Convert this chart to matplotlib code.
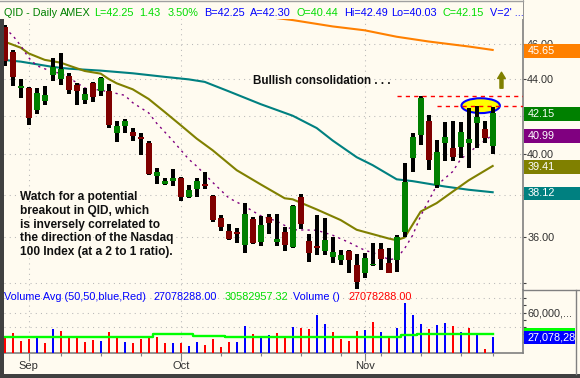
import numpy as np
import matplotlib
matplotlib.use('Agg')
import matplotlib.pyplot as plt
from matplotlib.patches import Rectangle, Ellipse
from matplotlib.ticker import FixedLocator, FixedFormatter, NullFormatter

plt.rcParams['font.family'] = ['Liberation Sans', 'DejaVu Sans']

W, H = 580, 378
BG = '#FFFBF0'

# ---------------- data ----------------
month_labels = ['Sep', 'Oct', 'Nov']
month_pos = [3, 22, 45]
week_pos = [7, 12, 17, 27, 32, 37, 42, 47, 52, 57, 61]

opens = [47.0, 45.55, 43.5, 43.5, 42.3, 42.8, 44.2, 44.0, 44.15, 43.65,
         42.85, 43.8, 43.35, 43.35, 41.1, 41.45, 41.15, 40.87, 40.55, 38.9,
         38.5, 38.65, 38.8, 37.9, 38.27, 38.5, 37.95, 36.9, 36.3, 36.25,
         35.66, 36.85, 35.77, 36.95, 35.77, 36.27, 35.58, 37.9, 35.85, 35.63,
         35.4, 35.1, 35.0, 35.4, 34.77, 34.4, 34.75, 35.48, 34.84, 35.0,
         36.27, 39.8, 41.0, 41.7, 38.48, 40.59, 40.33, 40.39, 40.59, 41.63,
         41.3, 40.44]
highs = [47.1, 45.65, 44.0, 43.55, 43.5, 43.6, 45.2, 45.5, 44.35, 43.8,
         43.5, 43.85, 44.1, 43.7, 41.7, 41.8, 41.35, 41.1, 40.7, 39.3,
         38.8, 39.25, 38.85, 38.45, 38.8, 39.1, 38.0, 37.05, 36.6, 36.45,
         37.6, 36.95, 37.0, 37.1, 37.1, 36.5, 37.5, 38.05, 36.15, 37.05,
         36.9, 36.0, 35.45, 35.45, 35.26, 35.3, 35.75, 35.75, 35.5, 36.12,
         39.55, 41.1, 43.06, 42.05, 40.73, 41.68, 41.72, 41.65, 42.4, 42.54,
         41.72, 42.49]
lows = [44.75, 43.6, 42.95, 41.5, 42.1, 42.55, 43.9, 43.65, 43.15, 42.6,
        42.65, 42.75, 43.05, 41.35, 40.6, 41.1, 40.7, 39.97, 38.95, 38.5,
        38.45, 38.4, 37.7, 37.85, 37.9, 38.27, 36.7, 36.3, 35.9, 35.75,
        35.3, 35.7, 35.6, 36.15, 35.62, 35.4, 35.5, 36.4, 34.9, 35.2,
        35.2, 34.87, 34.77, 34.43, 33.72, 34.2, 34.7, 34.55, 34.4, 34.47,
        36.04, 39.13, 40.47, 39.2, 38.34, 39.66, 39.68, 39.83, 39.3, 40.33,
        40.59, 40.03]
closes = [45.0, 44.1, 43.6, 41.9, 43.25, 43.1, 44.65, 44.55, 43.4, 43.35,
          43.15, 43.0, 44.05, 41.5, 41.45, 41.7, 40.95, 40.78, 39.0, 39.1,
          38.65, 38.8, 37.9, 38.25, 38.67, 38.4, 36.8, 36.47, 35.92, 36.15,
          37.1, 35.75, 36.58, 36.68, 35.93, 35.66, 37.45, 36.62, 35.3, 35.5,
          35.86, 35.32, 35.2, 35.0, 34.04, 35.07, 34.8, 35.02, 34.42, 36.04,
          38.6, 40.9, 42.94, 39.7, 40.13, 40.87, 39.85, 41.16, 40.78, 41.92,
          40.82, 42.15]

# volume in millions of shares, colour: 1 = blue, 0 = red
volume_m = [27.8, 32.4, 21.3, 23.7, 27.8, 18.5, 37.9, 34.7, 28.2, 26.4,
            19.9, 22.3, 21.3, 33.3, 25.4, 19.9, 18.5, 24.1, 25.4, 26.8,
            17.7, 18.5, 18.5, 14.0, 19.9, 15.4, 23.7, 12.6, 19.9, 19.1,
            42.0, 31.0, 26.8, 29.2, 32.0, 27.8, 40.2, 39.3, 37.5, 56.8,
            44.8, 33.3, 23.2, 20.9, 34.7, 36.1, 47.2, 33.3, 27.8, 38.9,
            73.4, 57.3, 44.4, 37.5, 43.0, 45.8, 41.6, 33.3, 38.9, 32.4,
            9.4, 27.08]
volume_blue = [0, 0, 0, 0, 1, 0, 1, 0, 0, 0,
               0, 0, 1, 0, 0, 1, 0, 0, 0, 0,
               0, 1, 0, 1, 1, 0, 0, 0, 0, 1,
               1, 0, 1, 1, 0, 0, 1, 0, 0, 1,
               1, 0, 0, 0, 0, 1, 0, 1, 0, 1,
               1, 1, 1, 0, 1, 1, 0, 1, 0, 1,
               0, 1]
vol_avg_m = [26.8] * 19 + [30.6] * 5 + [28.2] * 4 + [26.6] * 22 + [29.2] * 2 + [30.58] * 10

# moving averages (bar index, value)
ma200_idx = [34, 36, 41, 45, 49, 53, 58, 61]
ma200_val = [47.53, 47.41, 47.03, 46.80, 46.42, 46.14, 45.85, 45.65]

ma50_idx = [0, 2, 4, 6, 8, 12, 16, 20, 23, 25, 28, 32, 36, 39, 41, 44, 46, 49, 51, 55, 58, 61]
ma50_val = [45.07, 44.98, 44.83, 44.68, 44.58, 44.47, 44.32, 44.12, 43.98, 43.84,
            43.32, 42.62, 42.0, 41.35, 40.7, 39.85, 39.45, 38.75, 38.66, 38.4, 38.24, 38.12]

ma20_idx = [0, 2, 3, 5, 7, 8, 10, 12, 13, 14, 16, 18, 20, 22, 24, 26, 29, 32, 35, 36,
            39, 42, 44, 46, 48, 49, 50, 52, 54, 56, 58, 61]
ma20_val = [46.13, 45.78, 45.45, 45.08, 44.92, 44.76, 44.45, 44.3, 44.0, 43.76,
            43.43, 42.9, 42.2, 41.5, 40.8, 40.2, 39.2, 38.5, 37.83, 37.78,
            37.3, 36.8, 36.35, 36.15, 35.95, 35.87, 36.0, 37.2, 37.6, 38.15, 38.7, 39.41]

ma10_idx = [0, 1, 2, 3, 4, 6, 7, 9, 10, 12, 14, 15, 16, 18, 19, 21, 23, 24, 26, 28,
            30, 32, 34, 36, 39, 41, 43, 45, 47, 48, 49, 50, 51, 52, 54, 56, 57, 59, 61]
ma10_val = [46.92, 46.5, 45.9, 45.2, 44.75, 44.4, 44.32, 43.8, 43.5, 43.38,
            43.2, 43.1, 42.7, 42.15, 41.6, 40.7, 39.75, 39.4, 38.6, 37.85,
            37.45, 37.0, 36.75, 36.35, 36.33, 36.1, 35.78, 35.42, 35.2, 35.0,
            35.05, 35.5, 36.1, 37.0, 38.45, 39.13, 39.75, 40.4, 40.99]

# ---------------- helpers ----------------
def fx(px):
    return px / W

def fy(py):
    return 1 - py / H

YTOP, YBOT = 48.57, 33.68
VTOP, VBOT = 91.4, 4.98
XL, XR = -0.0875, 64.79

fig = plt.figure(figsize=(W / 100, H / 100), dpi=100, facecolor=BG)

# ---------------- price panel ----------------
ax = fig.add_axes([fx(4), fy(290), fx(523) - fx(4), fy(1) - fy(290)])
ax.set_facecolor(BG)
ax.set_yscale('log')
ax.set_xlim(XL, XR)
ax.set_ylim(YBOT, YTOP)
for s in ['left', 'top', 'bottom']:
    ax.spines[s].set_visible(False)
ax.spines['right'].set_color('#808080')
ax.spines['right'].set_linewidth(1.2)

yt = [34, 36, 38, 40, 42, 44, 46]
ax.yaxis.set_major_locator(FixedLocator(yt))
ax.yaxis.set_minor_locator(FixedLocator([]))
ax.yaxis.set_major_formatter(FixedFormatter(['', '36.00', '', '40.00', '', '44.00', '46.00']))
ax.yaxis.set_minor_formatter(NullFormatter())
ax.yaxis.tick_right()
ax.tick_params(axis='y', direction='out', length=2.5, width=0.8, color='#404040',
               labelsize=7.8, labelcolor='#303030', pad=0.5)
ax.set_xticks(month_pos)
ax.tick_params(axis='x', length=0, labelbottom=False)
ax.grid(True, which='major', color='#B8B8B8', linestyle=(0, (1, 4)), linewidth=0.75)
ax.set_axisbelow(True)

x = np.arange(len(closes))
o = np.array(opens); c = np.array(closes); hi = np.array(highs); lo = np.array(lows)
up = c >= o

# moving averages
ax.plot(ma200_idx, ma200_val, color='#FF8000', lw=1.5, zorder=2)
ax.plot(ma50_idx, ma50_val, color='#008080', lw=1.5, zorder=2)
ax.plot(ma20_idx, ma20_val, color='#808000', lw=1.5, zorder=2)
ax.plot(ma10_idx, ma10_val, color='#800080', lw=1.0, linestyle=(0, (1.6, 3)), zorder=2)

# highlight ellipse and resistance lines
ax.add_patch(Ellipse((59.5, 42.54), 4.8, 0.8, facecolor='#FFFF00', edgecolor='#0000FF',
                     lw=1.5, zorder=3))

# candles
ax.vlines(x, lo, hi, color='black', lw=1.5, zorder=4, antialiased=False)
body_b = np.minimum(o, c)
body_h = np.maximum(np.abs(c - o), 0.05)
ax.bar(x, body_h, bottom=body_b, width=0.75, color=np.where(up, '#008000', '#800000'),
       linewidth=0, zorder=5, antialiased=False)

ax.hlines(highs[52], 49, XR, colors='#FF0000', linestyles=(0, (3, 3)), lw=1.0, zorder=6)
ax.hlines(highs[59], 54, XR, colors='#FF0000', linestyles=(0, (3, 3)), lw=1.0, zorder=6)

ax.annotate('', xy=(62.1, 44.38), xytext=(62.1, 43.49),
            arrowprops=dict(width=2.2, headwidth=5.5, headlength=4.5, color='#808000', shrink=0),
            zorder=6)

# ---------------- volume panel ----------------
av = fig.add_axes([fx(4), fy(352.5), fx(523) - fx(4), fy(290) - fy(352.5)])
av.set_facecolor(BG)
av.set_xlim(XL, XR)
av.set_ylim(VBOT, VTOP)
for s in ['left', 'top']:
    av.spines[s].set_visible(False)
av.spines['right'].set_color('#808080')
av.spines['right'].set_linewidth(1.2)
av.spines['bottom'].set_color('#808080')
av.spines['bottom'].set_linewidth(1.2)
av.yaxis.tick_right()
av.yaxis.set_major_locator(FixedLocator([60]))
av.yaxis.set_major_formatter(FixedFormatter(['60,000,...']))
av.yaxis.set_minor_locator(FixedLocator([20, 30, 40, 50, 70, 80]))
av.tick_params(axis='y', which='both', direction='out', length=2.5, width=0.8, color='#404040',
               labelsize=7.8, labelcolor='#303030', pad=0.5)
av.xaxis.set_major_locator(FixedLocator(month_pos))
av.xaxis.set_major_formatter(FixedFormatter(month_labels))
av.xaxis.set_minor_locator(FixedLocator(week_pos))
av.tick_params(axis='x', which='major', direction='out', length=5.5, width=0.8, color='#808080',
               labelsize=8, labelcolor='#303030', pad=0.5)
av.tick_params(axis='x', which='minor', direction='out', length=2.5, width=0.8, color='#808080')
av.grid(True, axis='x', which='major', color='#B8B8B8', linestyle=(0, (1, 4)), linewidth=0.75)
for gv in [40, 60, 80]:
    av.axhline(gv, color='#B8B8B8', linestyle=(0, (1, 4)), linewidth=0.75, zorder=0)
av.set_axisbelow(True)

vcol = ['#0000FF' if b else '#FF0000' for b in volume_blue]
av.bar(x, volume_m, width=0.28, color=vcol, linewidth=0, zorder=3, antialiased=False)
av.plot(x, vol_avg_m, color='#00FF00', lw=1.7, drawstyle='steps-mid', zorder=4)

# ---------------- figure decorations ----------------
# title band mask
fig.add_artist(Rectangle((fx(4), fy(19)), fx(523) - fx(4), fy(0) - fy(19),
                         transform=fig.transFigure, facecolor=BG, edgecolor='none', zorder=2))
fig.add_artist(plt.Line2D([0, fx(523)], [fy(0.5), fy(0.5)], transform=fig.transFigure,
                          color='#A0A0A0', lw=1, zorder=3))

# dark frame strips
fig.add_artist(Rectangle((0, 0), fx(4), fy(19), transform=fig.transFigure,
                         facecolor='#404040', edgecolor='none', zorder=4))
fig.add_artist(Rectangle((0, 0), 1, fy(374), transform=fig.transFigure,
                         facecolor='#404040', edgecolor='none', zorder=4))

title_parts = [
    (3.7, 'QID - Daily', '#008000'), (60, 'AMEX', '#008000'),
    (94.4, 'L=42.25', '#00DD00'), (139.6, '1.43', '#00DD00'), (167.4, '3.50%', '#00DD00'),
    (203.7, 'B=42.25', '#0000FF'), (250, 'A=42.30', '#0000FF'),
    (296.3, 'O=40.44', '#00DD00'), (343.7, 'Hi=42.49', '#0000FF'),
    (391.5, 'Lo=40.03', '#0000FF'), (442.6, 'C=42.15', '#00DD00'),
    (490, "V=2' ...", '#0000FF'),
]
for px, s, col in title_parts:
    fig.text(fx(px), fy(13), s, color=col, fontsize=7.8, ha='left', va='center', zorder=5)

vol_parts = [
    (3.5, 'Volume Avg (50,50,blue,Red)', '#0000FF'), (154, '27078288.00', '#0000FF'),
    (225, '30582957.32', '#00DD00'), (293.3, 'Volume ()', '#0000FF'),
    (348.3, '27078288.00', '#FF0000'),
]
for px, s, col in vol_parts:
    fig.text(fx(px), fy(296.7), s, color=col, fontsize=7.8, ha='left', va='center', zorder=5)

fig.text(fx(252.7), fy(81), 'Bullish consolidation . . .', fontsize=8.4, fontweight='bold',
         color='#101010', ha='left', va='center', zorder=5)
fig.text(fx(20), fy(191), 'Watch for a potential\nbreakout in QID, which\nis inversely correlated to\n'
         'the direction of the Nasdaq\n100 Index (at a 2 to 1 ratio).',
         fontsize=8.6, fontweight='bold', color='#101010', ha='left', va='top',
         linespacing=1.2, zorder=5)

# value boxes on right axis
def value_box(axis, val, face, text, right=580):
    ydisp = axis.transData.transform((0, val))[1]
    ctr = ydisp - 1.0
    rect = Rectangle((fx(524), (ctr - 6.65) / H), fx(right) - fx(524), 13.3 / H,
                     transform=fig.transFigure, facecolor=face, edgecolor='none', zorder=6)
    fig.add_artist(rect)
    fig.text(fx(527.5), ctr / H, text, color='white', fontsize=7.8, ha='left',
             va='center', zorder=7)

value_box(ax, 45.65, '#FF8000', '45.65')
value_box(ax, 42.15, '#008000', '42.15')
value_box(ax, 40.99, '#800080', '40.99')
value_box(ax, 39.41, '#808000', '39.41')
value_box(ax, 38.12, '#008080', '38.12')
value_box(av, 30.58, '#00FF00', '', right=575)
value_box(av, 27.08, '#0000FF', '27,078,28', right=575)

fig.add_artist(plt.Line2D([fx(523), fx(580)], [fy(290), fy(290)], transform=fig.transFigure,
                          color='#808080', lw=1, zorder=6))
fig.add_artist(plt.Line2D([fx(575.5), fx(575.5)], [fy(290), fy(374)], transform=fig.transFigure,
                          color='#808080', lw=1, zorder=6))

fig.savefig('out.png', dpi=100, facecolor=BG)
